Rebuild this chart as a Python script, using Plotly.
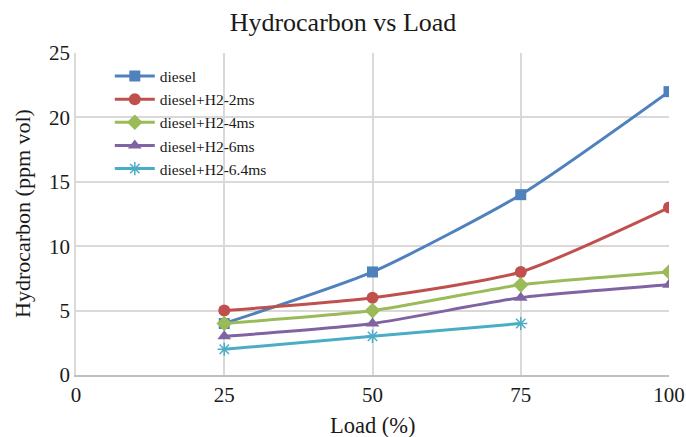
import plotly.graph_objects as go

load = [25, 50, 75, 100]
diesel = [4, 8, 14, 22]
h2_2ms = [5, 6, 8, 13]
h2_4ms = [4, 5, 7, 8]
h2_6ms = [3, 4, 6, 7]
h2_64_load = [25, 50, 75]
h2_64ms = [2, 3, 4]

series = [
    ("diesel", load, diesel, "#4F81BD", "square", 11),
    ("diesel+H2-2ms", load, h2_2ms, "#C0504D", "circle", 12),
    ("diesel+H2-4ms", load, h2_4ms, "#9BBB59", "diamond", 12),
    ("diesel+H2-6ms", load, h2_6ms, "#8064A2", "triangle-up", 12),
    ("diesel+H2-6.4ms", h2_64_load, h2_64ms, "#4BACC6", "asterisk-open", 11),
]

fig = go.Figure()
for name, xs, ys, color, sym, size in series:
    marker = dict(symbol=sym, size=size, color=color)
    if sym == "asterisk-open":
        marker["line"] = dict(color=color, width=1.5)
    fig.add_trace(go.Scatter(
        x=xs, y=ys, name=name, mode="lines+markers",
        line=dict(color=color, width=3, shape="spline", smoothing=0.6),
        marker=marker,
    ))

font = "Liberation Serif"
ink = "#1a1a1a"
fig.update_layout(
    width=686, height=437,
    margin=dict(l=76, r=17, t=53, b=62),
    paper_bgcolor="white", plot_bgcolor="white",
    font=dict(family=font, color=ink),
    title=dict(text="Hydrocarbon vs Load", x=0.5, xanchor="center",
               y=0.95, yanchor="middle", font=dict(size=26, family=font, color=ink)),
    showlegend=True,
    legend=dict(x=0.057, y=0.98, xanchor="left", yanchor="top",
                font=dict(size=15.5, family=font, color=ink),
                bgcolor="rgba(0,0,0,0)", tracegroupgap=0, itemwidth=40),
    xaxis=dict(range=[0, 100], tickvals=[0, 25, 50, 75, 100],
               showgrid=True, gridcolor="#D9D9D9", gridwidth=1.5,
               showline=True, linecolor="#BFBFBF", linewidth=1.5,
               ticks="", zeroline=False, automargin=False,
               tickfont=dict(size=21, family=font, color=ink)),
    yaxis=dict(range=[0, 25], tickvals=[0, 5, 10, 15, 20, 25],
               showgrid=True, gridcolor="#D9D9D9", gridwidth=1.5,
               showline=True, linecolor="#D9D9D9", linewidth=1.5,
               ticks="", zeroline=False, automargin=False,
               tickfont=dict(size=21, family=font, color=ink)),
    annotations=[
        dict(text="Load (%)", xref="paper", yref="paper", x=0.5, y=0,
             yshift=-50, xanchor="center", yanchor="middle", showarrow=False,
             font=dict(size=22.5, family=font, color=ink)),
        dict(text="Hydrocarbon (ppm vol)", xref="paper", yref="paper", x=0, y=0.5,
             xshift=-54, xanchor="center", yanchor="middle", showarrow=False,
             textangle=-90, font=dict(size=22, family=font, color=ink)),
    ],
)

fig.write_html("out.html")
